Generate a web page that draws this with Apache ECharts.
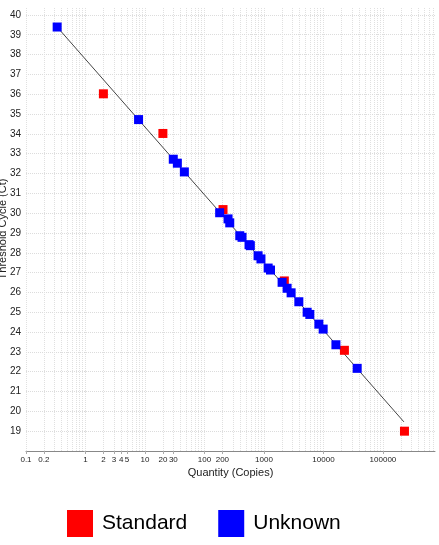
<!DOCTYPE html>
<html>
<head>
<meta charset="utf-8">
<script src="https://cdn.jsdelivr.net/npm/echarts@6/dist/echarts.min.js"></script>
<style>
  html, body { margin: 0; padding: 0; background: #fff; }
  #main { width: 439px; height: 545px; }
</style>
</head>
<body>
<div id="main"></div>
<script>
// standards (red)
var standardQty = [2, 20, 205, 2200, 22500, 230000];
var standardCt = [36.02, 34.02, 30.18, 26.58, 23.08, 19.0];

// unknowns (blue)
var unknownQty = [0.334, 7.8, 29.9, 35, 45.9, 180, 249, 266, 392, 428, 561, 590, 796, 890,
  1176, 1287, 2018, 2450, 2860, 3855, 5320, 5900, 8370, 9890, 16200, 36900];
var unknownCt = [39.39, 34.72, 32.72, 32.52, 32.08, 30.02, 29.71, 29.51, 28.86, 28.78, 28.41, 28.36, 27.85, 27.69,
  27.23, 27.13, 26.51, 26.21, 25.98, 25.53, 25.0, 24.89, 24.40, 24.15, 23.36, 22.17];

// standard curve ends
var fitQty = [0.334, 225000];
var fitCt = [39.39, 19.47];

// x tick labels (copies)
var xTickLabels = [0.1, 0.2, 1, 2, 3, 4, 5, 10, 20, 30, 100, 200, 1000, 10000, 100000];

// x axis runs on log10 of copies
var xMinLog = -1;
var xMaxLog = 5.875;

var gridVals = [];
for (var e = -1; e <= 5; e++) {
  for (var k = 1; k <= 9; k++) {
    var v = k * Math.pow(10, e);
    if (Math.log10(v) <= xMaxLog) gridVals.push(v);
  }
}

function pairs(xs, ys) {
  return xs.map(function (x, i) { return [Math.log10(x), ys[i]]; });
}

function fmtQty(lv) {
  var best = null;
  xTickLabels.forEach(function (t) {
    if (Math.abs(Math.log10(t) - lv) < 1e-6) best = t;
  });
  return best === null ? '' : String(best);
}

var myChart = echarts.init(document.getElementById('main'));
myChart.setOption({
  animation: false,
  grid: { left: 26, right: 4, top: 7, bottom: 94, outerBoundsMode: 'none', containLabel: false },
  legend: {
    data: ['Standard', 'Unknown'],
    left: 67,
    top: 510,
    padding: 0,
    icon: 'rect',
    itemWidth: 26,
    itemHeight: 27,
    itemGap: 31,
    textStyle: {
      fontFamily: '"Liberation Sans", sans-serif',
      fontSize: 21,
      color: '#000',
      padding: [0, 0, 0, 4]
    }
  },
  xAxis: {
    type: 'value',
    min: xMinLog,
    max: xMaxLog,
    name: 'Quantity (Copies)',
    nameLocation: 'middle',
    nameGap: 16,
    nameMoveOverlap: false,
    nameTextStyle: { fontFamily: 'Liberation Sans', fontSize: 11, color: '#222' },
    axisLine: { lineStyle: { color: '#888', width: 1 } },
    axisTick: {
      show: true,
      length: 3,
      customValues: xTickLabels.map(function (t) { return Math.log10(t); }),
      lineStyle: { color: '#aaa' }
    },
    axisLabel: {
      customValues: xTickLabels.map(function (t) { return Math.log10(t); }),
      formatter: fmtQty,
      fontFamily: 'Liberation Sans',
      fontSize: 8,
      color: '#222',
      margin: 5,
      hideOverlap: false
    },
    splitLine: { show: false }
  },
  yAxis: {
    type: 'value',
    min: 18,
    max: 40.4,
    interval: 1,
    name: 'Threshold Cycle (Ct)',
    nameLocation: 'middle',
    nameGap: 18,
    nameMoveOverlap: false,
    nameTextStyle: { fontFamily: 'Liberation Sans', fontSize: 11, color: '#222' },
    axisLine: { show: false },
    axisTick: { show: true, length: 2, lineStyle: { color: '#d0d0d0', type: 'dotted' } },
    axisLabel: {
      fontFamily: 'Liberation Sans',
      fontSize: 10,
      color: '#222',
      margin: 5,
      showMaxLabel: false,
      formatter: function (v) {
        return (v >= 19 && v <= 40 && Math.round(v) === v) ? String(v) : '';
      }
    },
    splitLine: {
      show: true,
      showMinLine: false,
      showMaxLine: false,
      lineStyle: { color: '#dcdcdc', type: 'dotted', width: 1 }
    }
  },
  series: [
    {
      name: 'fit',
      type: 'line',
      data: pairs(fitQty, fitCt),
      symbol: 'none',
      lineStyle: { color: '#444', width: 1 },
      z: 2,
      markLine: {
        silent: true,
        symbol: ['none', 'none'],
        z: 1,
        label: { show: false },
        lineStyle: { color: '#e0e0e0', type: 'dotted', width: 1 },
        emphasis: { disabled: true },
        data: gridVals.map(function (v) { return { xAxis: Math.log10(v) }; })
      }
    },
    {
      name: 'Standard',
      type: 'scatter',
      data: pairs(standardQty, standardCt),
      symbol: 'rect',
      symbolSize: 9,
      itemStyle: { color: '#ff0000', opacity: 1 },
      z: 3
    },
    {
      name: 'Unknown',
      type: 'scatter',
      data: pairs(unknownQty, unknownCt),
      symbol: 'rect',
      symbolSize: 9,
      itemStyle: { color: '#0000ff', opacity: 1 },
      z: 4
    }
  ]
});
</script>
</body>
</html>
